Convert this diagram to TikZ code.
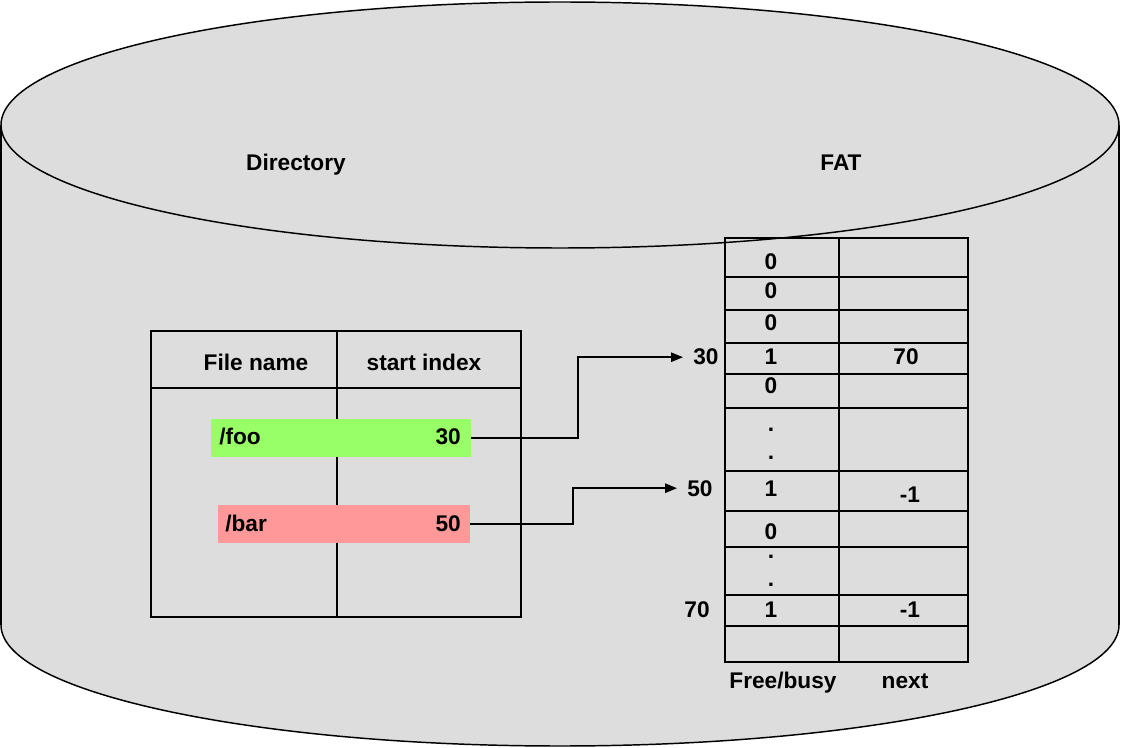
\documentclass[tikz,border=0pt]{standalone}
\usepackage{fontspec}
\setmainfont{Liberation Sans}
\usetikzlibrary{arrows.meta}
\definecolor{cylgray}{HTML}{DDDDDD}
\definecolor{foogreen}{HTML}{99FF66}
\definecolor{barred}{HTML}{FF9999}
\begin{document}
\begin{tikzpicture}[x=0.75pt,y=-0.75pt,
  txt/.style={font=\fontsize{17}{20}\selectfont\bfseries, inner sep=0pt, anchor=base},
  gridline/.style={line width=1.5pt},
  outline/.style={line width=1.1pt},
  arr/.style={line width=1.35pt, -{Triangle[length=9pt,width=7pt]}},
  entry/.style={inner sep=0pt, minimum height=28.5pt}]
\useasboundingbox (0,0) rectangle (1121,748);
% cylinder
\filldraw[fill=cylgray, outline] (560,625) ellipse [x radius=559, y radius=121];
\fill[cylgray] (1,125) rectangle (1119,625);
\draw[outline] (1,125) -- (1,625);
\draw[outline] (1119,125) -- (1119,625);
\filldraw[fill=cylgray, outline] (560,125) ellipse [x radius=559, y radius=123];
\node[txt] (dirt) at (296,171) {Directory};
\node[txt] (fatt) at (841,171) {FAT};
% directory table
\draw[gridline] (151,331) rectangle (521,617);
\draw[gridline] (151,388) -- (521,388);
\draw[gridline] (337,331) -- (337,617);
\node[txt] (hname) at (256,371) {File name};
\node[txt] (hidx) at (424,371) {start index};
\node[entry, fill=foogreen, minimum width=195pt] (foo) at (341,438) {};
\node[entry, fill=barred, minimum width=189pt] (bar) at (344,524) {};
\node[txt, anchor=base west] (fooname) at (219,445) {/foo};
\node[txt, anchor=base east] (fooidx) at (461,445) {30};
\node[txt, anchor=base west] (barname) at (225,531) {/bar};
\node[txt, anchor=base east] (baridx) at (461,531) {50};
% FAT table
\draw[gridline] (725,238) rectangle (968,662);
\draw[gridline] (839,238) -- (839,662);
\foreach \yy in {277,310,343,374,408,471,511,547,595,626}
  \draw[gridline] (725,\yy) -- (968,\yy);
\node[txt] (c1) at (771,270) {0};
\node[txt] (c2) at (771,299) {0};
\node[txt] (c3) at (771,331) {0};
\node[txt] (c4) at (771,365) {1};
\node[txt] (n4) at (906,365) {70};
\node[txt] (c5) at (771,394) {0};
\node[txt] (d1) at (771,431.5) {.};
\node[txt] (d2) at (771,459.5) {.};
\node[txt] (c6) at (771,496) {1};
\node[txt] (n6) at (910,503) {-1};
\node[txt] (c7) at (771,539) {0};
\node[txt] (d3) at (771,558.5) {.};
\node[txt] (d4) at (771,586.5) {.};
\node[txt] (c8) at (771,617) {1};
\node[txt] (n8) at (910,617) {-1};
\node[txt] (fb) at (783,688) {Free/busy};
\node[txt] (nx) at (905,688) {next};
% index labels
\node[txt, anchor=base west, inner xsep=7.5pt] (l30) at (683,365) {30};
\node[txt, anchor=base west, inner xsep=7.5pt] (l50) at (677,496) {50};
\node[txt] (l70) at (697,617) {70};
% arrows
\draw[arr] (foo.east) -- ++(107,0) |- (l30.west);
\draw[arr] (bar.east) -- ++(103,0) |- (l50.west);
\end{tikzpicture}
\end{document}
